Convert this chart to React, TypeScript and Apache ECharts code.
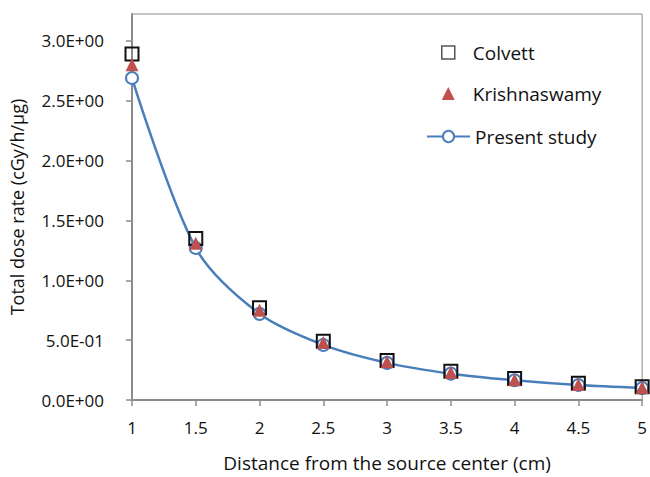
import React, { useEffect, useRef } from "react";
import * as echarts from "echarts";

// Distance from the source centre (cm)
const distances = [1, 1.5, 2, 2.5, 3, 3.5, 4, 4.5, 5];
// Total dose rate (cGy/h/µg)
const colvett = [2.89, 1.35, 0.77, 0.49, 0.33, 0.24, 0.18, 0.14, 0.11];
const krishnaswamy = [2.8, 1.31, 0.75, 0.48, 0.32, 0.23, 0.17, 0.13, 0.105];
const presentStudy = [2.69, 1.27, 0.72, 0.46, 0.31, 0.22, 0.165, 0.125, 0.1];

const yTickValues = [0, 0.5, 1, 1.5, 2, 2.5, 3];
const yTickLabels = ["0.0E+00", "5.0E-01", "1.0E+00", "1.5E+00", "2.0E+00", "2.5E+00", "3.0E+00"];
const xTickLabels = ["1", "1.5", "2", "2.5", "3", "3.5", "4", "4.5", "5"];

const FONT = "'Open Sans', sans-serif";
const BLUE = "#4a7ebb";
const RED = "#c0504d";

export default function App() {
  const ref = useRef<HTMLDivElement>(null);

  useEffect(() => {
    if (!ref.current) return;
    const chart = echarts.init(ref.current, null, { renderer: "svg" });
    const pair = (ys: number[]) => distances.map((x, i) => [x, ys[i]]);
    const legendText = { fontFamily: FONT, fontSize: 19, color: "#111" };

    chart.setOption({
      animation: false,
      backgroundColor: "#ffffff",
      textStyle: { fontFamily: FONT },
      grid: {
        left: 132,
        right: 7,
        top: 14,
        bottom: 77,
        show: true,
        borderColor: "#8c8c8c",
        borderWidth: 1,
      },
      legend: [
        {
          // marker-only series: square icons
          orient: "vertical",
          left: 436,
          top: 38,
          itemWidth: 13,
          itemHeight: 13,
          itemGap: 22,
          data: [
            {
              name: "Colvett",
              itemStyle: { color: "rgba(255,255,255,0)", borderColor: "#555", borderWidth: 1.5 },
            },
            { name: "Krishnaswamy", itemStyle: { color: RED, opacity: 1 } },
          ],
          textStyle: { ...legendText, padding: [0, 0, 0, 13] },
        },
        {
          // line series: long line icon with the circle marker
          orient: "vertical",
          left: 421,
          top: 122,
          itemWidth: 43,
          itemHeight: 14,
          data: ["Present study"],
          textStyle: legendText,
        },
      ],
      xAxis: {
        type: "value",
        min: 1,
        max: 5,
        interval: 0.5,
        name: "Distance from the source center (cm)",
        nameLocation: "middle",
        nameGap: 53,
        nameTextStyle: { fontFamily: FONT, fontSize: 19, color: "#111" },
        axisLine: { show: true, lineStyle: { color: "#8c8c8c", width: 2 } },
        axisTick: { show: true, length: 6, lineStyle: { color: "#8c8c8c", width: 1.5 } },
        axisLabel: {
          margin: 19,
          fontFamily: FONT,
          fontSize: 17,
          color: "#111",
          formatter: (v: number) => {
            const i = distances.indexOf(v);
            return i >= 0 ? xTickLabels[i] : "";
          },
        },
        splitLine: { show: false },
      },
      yAxis: {
        type: "value",
        min: 0,
        max: 3.225,
        name: "Total dose rate (cGy/h/μg)",
        nameLocation: "middle",
        nameRotate: 90,
        nameGap: 106,
        nameTextStyle: { fontFamily: FONT, fontSize: 18, color: "#111" },
        axisLine: { show: true, lineStyle: { color: "#8c8c8c", width: 2 } },
        axisTick: {
          show: true,
          length: 6,
          customValues: yTickValues,
          lineStyle: { color: "#8c8c8c", width: 1.5 },
        },
        axisLabel: {
          margin: 28,
          fontFamily: FONT,
          fontSize: 17,
          color: "#111",
          customValues: yTickValues,
          formatter: (v: number) => {
            const i = yTickValues.findIndex((t) => Math.abs(t - v) < 1e-9);
            return i >= 0 ? yTickLabels[i] : "";
          },
        },
        splitLine: { show: false },
      },
      series: [
        {
          name: "Present study",
          type: "line",
          data: pair(presentStudy),
          smooth: 0.3,
          symbol: "circle",
          symbolSize: 12,
          z: 2,
          lineStyle: { color: BLUE, width: 2.5 },
          itemStyle: { color: "#ffffff", borderColor: BLUE, borderWidth: 2 },
        },
        {
          name: "Colvett",
          type: "scatter",
          data: pair(colvett),
          symbol: "rect",
          symbolSize: 13,
          z: 3,
          itemStyle: { color: "rgba(255,255,255,0)", borderColor: "#111", borderWidth: 2, opacity: 1 },
        },
        {
          name: "Krishnaswamy",
          type: "scatter",
          data: pair(krishnaswamy),
          symbol: "triangle",
          symbolSize: 13,
          z: 4,
          itemStyle: { color: RED, opacity: 1 },
        },
      ],
    });

    return () => chart.dispose();
  }, []);

  return <div ref={ref} style={{ width: 650, height: 477, position: "absolute", left: 0, top: 0 }} />;
}
